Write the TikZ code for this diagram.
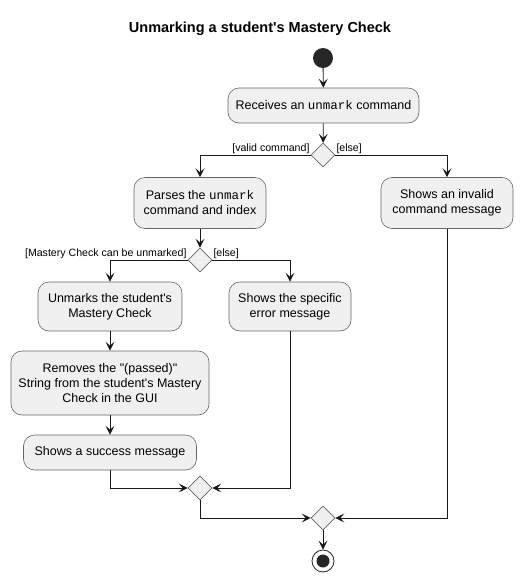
\documentclass[tikz,border=0pt]{standalone}
\usepackage{fontspec}
\setmainfont{Liberation Sans}[Ligatures=TeXOff]
\setmonofont{Liberation Mono}[Ligatures=TeXOff]
\usetikzlibrary{arrows.meta,shapes.geometric}
\begin{document}
\begin{tikzpicture}[x=1pt,y=-1pt,
  act/.style={draw=black!60, fill=black!6, rounded corners=11pt, align=center, inner sep=0pt, font=\fontsize{12.5}{15}\selectfont, line width=0.6pt},
  dia/.style={draw=black!60, fill=black!6, diamond, minimum width=24pt, minimum height=24pt, inner sep=0pt, line width=0.6pt},
  flow/.style={draw=black!90, line width=0.8pt, -{Stealth[length=9pt,width=9pt,inset=4pt]}},
  lbl/.style={font=\fontsize{10.6}{13}\selectfont, inner sep=1pt},
]
\useasboundingbox (0,0) rectangle (524,582);
\node[font=\bfseries\fontsize{14.5}{17}\selectfont] (title) at (260,29) {Unmarking a student's Mastery Check};
\node[circle, fill=black!85, minimum size=20pt, inner sep=0pt] (start) at (323,58) {};
\node[act, minimum width=191pt, minimum height=35pt] (recv) at (323.5,105.5) {Receives an \texttt{unmark} command};
\node[dia] (d1) at (323,155) {};
\node[act, minimum width=132pt, minimum height=51pt] (parse) at (200,203) {Parses the \texttt{unmark}\\command and index};
\node[act, minimum width=132pt, minimum height=51pt] (inval) at (447,203) {Shows an invalid\\command message};
\node[dia] (d2) at (200,260) {};
\node[act, minimum width=144pt, minimum height=49pt] (unm) at (110,306.5) {Unmarks the student's\\Mastery Check};
\node[act, minimum width=122pt, minimum height=49pt] (spec) at (290,306.5) {Shows the specific\\error message};
\node[act, minimum width=198pt, minimum height=64pt] (rem) at (110,383) {Removes the "(passed)"\\String from the student's Mastery\\Check in the GUI};
\node[act, minimum width=173pt, minimum height=35pt] (succ) at (110,452.5) {Shows a success message};
\node[dia] (d3) at (200,488) {};
\node[dia] (d4) at (323,518) {};
\node[circle, draw=black!85, line width=0.8pt, fill=white, minimum size=22pt, inner sep=0pt] (end) at (323,561) {};
\node[circle, fill=black!85, minimum size=13pt, inner sep=0pt] at (end) {};

\draw[flow] (start) -- (recv);
\draw[flow] (recv) -- (d1);
\draw[flow] (d1.west) -| (parse.north);
\draw[flow] (d1.east) -| (inval.north);
\node[lbl, anchor=south east] at (d1.west) {[valid command]};
\node[lbl, anchor=south west] at (d1.east) {[else]};
\draw[flow] (parse) -- (d2);
\draw[flow] (d2.west) -| (unm.north);
\draw[flow] (d2.east) -| (spec.north);
\node[lbl, anchor=south east] at (d2.west) {[Mastery Check can be unmarked]};
\node[lbl, anchor=south west] at (d2.east) {[else]};
\draw[flow] (unm) -- (rem);
\draw[flow] (rem) -- (succ);
\draw[flow] (succ.south) |- (d3.west);
\draw[flow] (spec.south) |- (d3.east);
\draw[flow] (d3.south) |- (d4.west);
\draw[flow] (inval.south) |- (d4.east);
\draw[flow] (d4) -- (end);
\end{tikzpicture}
\end{document}
